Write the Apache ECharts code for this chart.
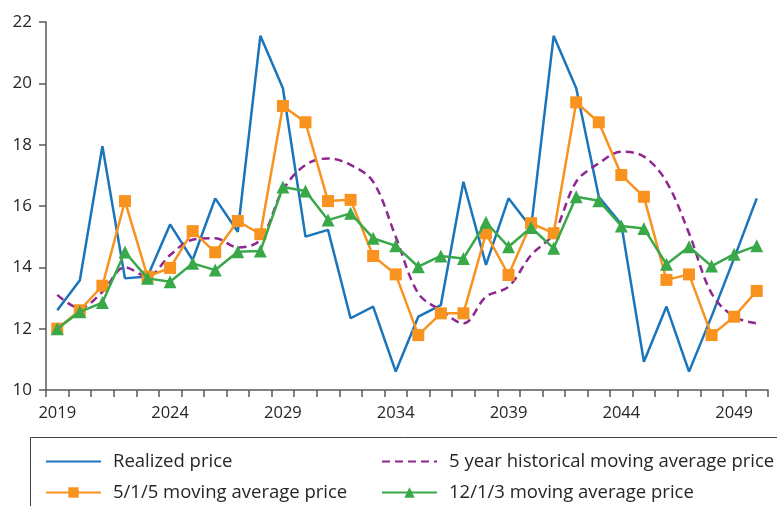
<!DOCTYPE html>
<html>
<head>
<meta charset="utf-8">
<script src="https://cdn.jsdelivr.net/npm/echarts@6/dist/echarts.min.js"></script>
<style>
  html, body { margin: 0; padding: 0; background: #fff; }
  #chart { width: 777px; height: 506px; }
</style>
</head>
<body>
<div id="chart"></div>
<script>
// Years on the horizontal axis
const years = [];
for (let y = 2019; y <= 2050; y++) years.push(String(y));

// Price series
const realized = [12.6, 13.58, 17.95, 13.64, 13.7, 15.4, 14.24, 16.25, 15.16, 21.55,
                  19.84, 15.0, 15.22, 12.34, 12.72, 10.6, 12.39, 12.77, 16.79, 14.08,
                  16.25, 15.3, 21.55, 19.84, 16.3, 15.4, 10.92, 12.72, 10.6, 12.4,
                  14.3, 16.25];
const hist5 = [13.1, 12.67, 13.2, 14.0, 13.7, 14.4, 14.9, 14.95, 14.65, 14.9,
               16.52, 17.34, 17.55, 17.34, 16.79, 15.0, 13.15, 12.6, 12.17, 13.04,
               13.37, 14.4, 15.1, 16.79, 17.39, 17.77, 17.61, 16.79, 15.11, 13.15,
               12.39, 12.17];
const ma515 = [12.0, 12.6, 13.4, 16.16, 13.7, 13.98, 15.18, 14.49, 15.51, 15.08,
               19.26, 18.73, 16.16, 16.2, 14.37, 13.77, 11.79, 12.5, 12.5, 15.11,
               13.75, 15.44, 15.11, 19.38, 18.73, 17.01, 16.3, 13.59, 13.77, 11.79,
               12.39, 13.23];
const ma1213 = [12.0, 12.55, 12.85, 14.5, 13.64, 13.53, 14.13, 13.91, 14.51, 14.53,
                16.62, 16.49, 15.54, 15.76, 14.95, 14.7, 14.02, 14.37, 14.29, 15.47,
                14.67, 15.3, 14.62, 16.3, 16.17, 15.35, 15.27, 14.1, 14.67, 14.04,
                14.43, 14.7];

const FONT = '"Open Sans", "Noto Sans", sans-serif';
const AXIS = '#595959';
const TEXT = '#262626';

const chart = echarts.init(document.getElementById('chart'), null, { renderer: 'canvas' });

// One legend component per entry so the 2x2 layout lines up in columns.
// Plain-line entries hide the marker that ECharts would otherwise add.
function legendAt(name, left, top, lineOnly) {
  return {
    data: [name], left: left, top: top, padding: 0,
    itemWidth: 55, itemHeight: 13, orient: 'horizontal',
    selectedMode: false,
    itemStyle: lineOnly ? { opacity: 0 } : {},
    textStyle: { fontFamily: FONT, fontSize: 18.5, color: TEXT, padding: [0, 0, 0, 7] }
  };
}

chart.setOption({
  animation: false,
  backgroundColor: '#fff',
  grid: { left: 46, right: 9, top: 22, bottom: 116, containLabel: false },
  xAxis: {
    type: 'category',
    data: years,
    boundaryGap: true,
    axisLine: { lineStyle: { color: AXIS, width: 1.5 } },
    axisTick: { show: true, interval: 0, length: 7, lineStyle: { color: AXIS, width: 1.5 } },
    axisLabel: { interval: 4, margin: 15, fontFamily: FONT, fontSize: 16.5, color: TEXT },
    splitLine: { show: false }
  },
  yAxis: {
    type: 'value',
    min: 10, max: 22, interval: 2,
    axisLine: { show: true, lineStyle: { color: AXIS, width: 1.5 } },
    axisTick: { show: true, length: 7, lineStyle: { color: AXIS, width: 1.5 } },
    axisLabel: { margin: 14, fontFamily: FONT, fontSize: 17, color: TEXT },
    splitLine: { show: false }
  },
  legend: [
    legendAt('Realized price', 45, 452, true),
    legendAt('5 year historical moving average price', 381, 452, true),
    legendAt('5/1/5 moving average price', 45, 483, false),
    legendAt('12/1/3 moving average price', 381, 483, false)
  ],
  graphic: [{
    type: 'rect', silent: true,
    shape: { x: 30.5, y: 437.5, width: 800, height: 100 },
    style: { fill: 'none', stroke: '#404040', lineWidth: 1 }
  }],
  series: [
    {
      name: 'Realized price', type: 'line', data: realized,
      symbol: 'none', z: 2,
      lineStyle: { color: '#1b75bb', width: 2.5 },
      itemStyle: { color: '#1b75bb' }
    },
    {
      name: '5 year historical moving average price', type: 'line', data: hist5,
      symbol: 'none', smooth: 0.35, z: 3,
      lineStyle: { color: '#8e278f', width: 2.5, type: [8, 5] },
      itemStyle: { color: '#8e278f' }
    },
    {
      name: '5/1/5 moving average price', type: 'line', data: ma515,
      symbol: 'rect', symbolSize: 12, z: 4,
      lineStyle: { color: '#f7931e', width: 2.5 },
      itemStyle: { color: '#f7931e' }
    },
    {
      name: '12/1/3 moving average price', type: 'line', data: ma1213,
      symbol: 'triangle', symbolSize: 13, z: 5,
      lineStyle: { color: '#39a849', width: 2.5 },
      itemStyle: { color: '#39a849' }
    }
  ]
});
</script>
</body>
</html>
